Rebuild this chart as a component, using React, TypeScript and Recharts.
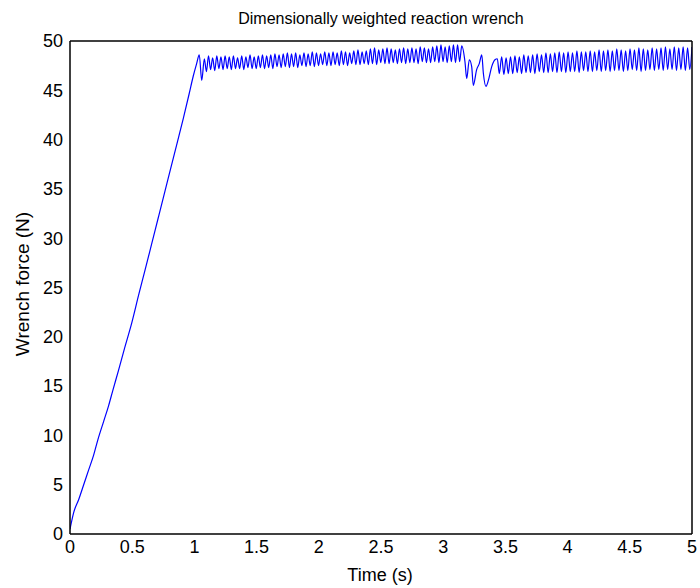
import React from 'react'
import { LineChart, Line, XAxis, YAxis } from 'recharts'

// ramp phase (s, N)
const rampTime = [0, 0.03, 0.07, 0.11, 0.15, 0.19, 0.225, 0.27, 0.31, 0.345, 0.39, 0.44, 0.49, 0.555, 0.6, 0.66, 0.71, 0.764, 0.81, 0.86, 0.91, 0.957, 0.99, 1.018, 1.039, 1.059, 1.08]
const rampForce = [0.5, 2.2, 3.5, 5.0, 6.5, 8.0, 9.6, 11.4, 13.0, 14.6, 16.6, 18.9, 21.1, 24.4, 26.6, 29.6, 32.1, 34.8, 37.1, 39.6, 42.1, 44.6, 46.4, 47.7, 48.6, 46.0, 48.2]

// first holding phase: one peak / trough per oscillation cycle
const hold1Span = [1.08, 3.149]
const hold1Peaks = [
  48.5, 48.3, 48.5, 48.4, 48.5, 48.4, 48.5, 48.3, 48.5, 48.4, 48.6, 48.4, 48.5, 48.6, 48.5,
  48.6, 48.7, 48.6, 48.7, 48.8, 48.7, 48.8, 48.6, 48.8, 48.7, 48.9, 48.8, 48.7, 48.9, 48.8,
  48.9, 48.8, 49.0, 48.9, 48.8, 49.0, 49.1, 48.9, 49.0, 49.2, 49.3, 49.1, 49.2, 49.3, 49.2, 49.1,
  49.2, 49.3, 49.2, 49.3, 49.2, 49.4, 49.3, 49.2, 49.4, 49.5, 49.6, 49.4, 49.5, 49.6, 49.6, 49.5,
]
const hold1Troughs = [
  46.9, 47.1, 47.0, 47.2, 47.1, 47.2, 47.1, 47.2, 47.2, 47.1, 47.3, 47.2, 47.2, 47.3, 47.2,
  47.3, 47.2, 47.4, 47.3, 47.4, 47.3, 47.4, 47.3, 47.5, 47.4, 47.5, 47.4, 47.5, 47.6, 47.5,
  47.5, 47.6, 47.5, 47.6, 47.5, 47.7, 47.6, 47.6, 47.7, 47.6, 47.7, 47.6, 47.8, 47.7, 47.7, 47.8,
  47.7, 47.8, 47.7, 47.8, 47.8, 47.7, 47.9, 47.8, 47.8, 47.9, 47.8, 47.9, 47.8, 47.9, 47.8, 47.9,
]

// disturbance around 3.2 s
const dipTime = [3.175, 3.189, 3.21, 3.229, 3.242, 3.269, 3.29, 3.31, 3.323, 3.344, 3.363, 3.39, 3.416, 3.435, 3.451, 3.47]
const dipForce = [47.9, 46.2, 48.1, 47.4, 45.5, 47.1, 47.7, 48.6, 46.7, 45.4, 46.0, 47.4, 48.1, 48.2, 46.7, 48.4]

// second holding phase
const hold2Span = [3.47, 5.0]
const hold2Peaks = [
  48.3, 48.4, 48.5, 48.4, 48.6, 48.5, 48.6, 48.7, 48.6, 48.8, 48.7,
  48.8, 48.9, 48.8, 48.9, 48.8, 49.0, 48.9, 48.9, 49.0, 48.9, 49.1,
  49.0, 49.1, 49.0, 49.2, 49.1, 49.0, 49.2, 49.1, 49.3, 49.2, 49.1,
  49.3, 49.2, 49.3, 49.4, 49.2, 49.4, 49.3, 49.4, 49.3, 49.4,
]
const hold2Troughs = [
  46.6, 46.7, 46.7, 46.8, 46.7, 46.8, 46.8, 46.7, 46.9, 46.8, 46.8,
  46.9, 46.8, 46.9, 46.8, 46.9, 46.9, 46.8, 47.0, 46.9, 46.9, 47.0,
  46.9, 47.0, 46.9, 47.0, 47.0, 46.9, 47.0, 47.1, 47.0, 46.9, 47.0,
  47.1, 47.0, 47.1, 47.0, 47.1, 47.1, 47.0, 47.1, 47.0, 47.1,
]

const xTicks = [0, 0.5, 1, 1.5, 2, 2.5, 3, 3.5, 4, 4.5, 5]
const yTicks = [0, 5, 10, 15, 20, 25, 30, 35, 40, 45, 50]

type Pt = { t: number; f: number }

// samples of a holding phase are evenly spaced in time: trough, peak, trough, peak...
function holdPoints(span: number[], peaks: number[], troughs: number[]): Pt[] {
  const n = peaks.length
  const h = (span[1] - span[0]) / (2 * n)
  const out: Pt[] = []
  for (let i = 0; i < n; i++) {
    out.push({ t: span[0] + (2 * i + 1) * h, f: troughs[i] })
    out.push({ t: span[0] + (2 * i + 2) * h, f: peaks[i] })
  }
  return out
}

const data: Pt[] = [
  ...rampTime.map((t, i) => ({ t, f: rampForce[i] })),
  ...holdPoints(hold1Span, hold1Peaks, hold1Troughs),
  ...dipTime.map((t, i) => ({ t, f: dipForce[i] })),
  ...holdPoints(hold2Span, hold2Peaks, hold2Troughs),
]

const font = '"Liberation Sans", Arial, Helvetica, sans-serif'
const tickStyle = { fontSize: 18, fill: '#000', fontFamily: font }
const frame = { stroke: '#000', strokeWidth: 1.5 }

export default function App() {
  return (
    <div style={{ position: 'absolute', left: 0, top: 0, width: 700, height: 588, background: '#fff', fontFamily: font }}>
      <div style={{ position: 'absolute', left: 381, top: 11, transform: 'translateX(-50%)', whiteSpace: 'nowrap', fontSize: 16, lineHeight: 1 }}>
        Dimensionally weighted reaction wrench
      </div>
      <div style={{ position: 'absolute', left: 380, top: 575, transform: 'translate(-50%, -50%)', whiteSpace: 'nowrap', fontSize: 18, lineHeight: 1 }}>
        Time (s)
      </div>
      <div style={{ position: 'absolute', left: 22, top: 284, transform: 'translate(-50%, -50%) rotate(-90deg)', whiteSpace: 'nowrap', fontSize: 19, lineHeight: 1 }}>
        Wrench force (N)
      </div>
      <LineChart width={700} height={588} data={data} margin={{ top: 41, right: 8, bottom: 24, left: 20 }}>
        <XAxis xAxisId="main" dataKey="t" type="number" domain={[0, 5]} ticks={xTicks} allowDataOverflow
          height={30} tickLine={false} axisLine={false} tickSize={0} tickMargin={6} tick={tickStyle} interval={0} />
        <XAxis xAxisId="bottomIn" dataKey="t" type="number" domain={[0, 5]} ticks={xTicks} allowDataOverflow
          mirror height={1} tick={false} tickSize={5} tickLine={frame} axisLine={frame} />
        <XAxis xAxisId="topIn" orientation="top" dataKey="t" type="number" domain={[0, 5]} ticks={xTicks} allowDataOverflow
          mirror height={1} tick={false} tickSize={5} tickLine={frame} axisLine={frame} />
        <YAxis yAxisId="main" type="number" domain={[0, 50]} ticks={yTicks} allowDataOverflow
          width={50} tickLine={false} axisLine={false} tickSize={0} tickMargin={7} tick={tickStyle} interval={0} />
        <YAxis yAxisId="leftIn" type="number" domain={[0, 50]} ticks={yTicks} allowDataOverflow
          mirror width={1} tick={false} tickSize={5} tickLine={frame} axisLine={frame} />
        <YAxis yAxisId="rightIn" orientation="right" type="number" domain={[0, 50]} ticks={yTicks} allowDataOverflow
          mirror width={1} tick={false} tickSize={5} tickLine={frame} axisLine={frame} />
        <Line xAxisId="main" yAxisId="main" type="monotone" dataKey="f" stroke="#0000ff" strokeWidth={1.2}
          dot={false} isAnimationActive={false} />
      </LineChart>
    </div>
  )
}
